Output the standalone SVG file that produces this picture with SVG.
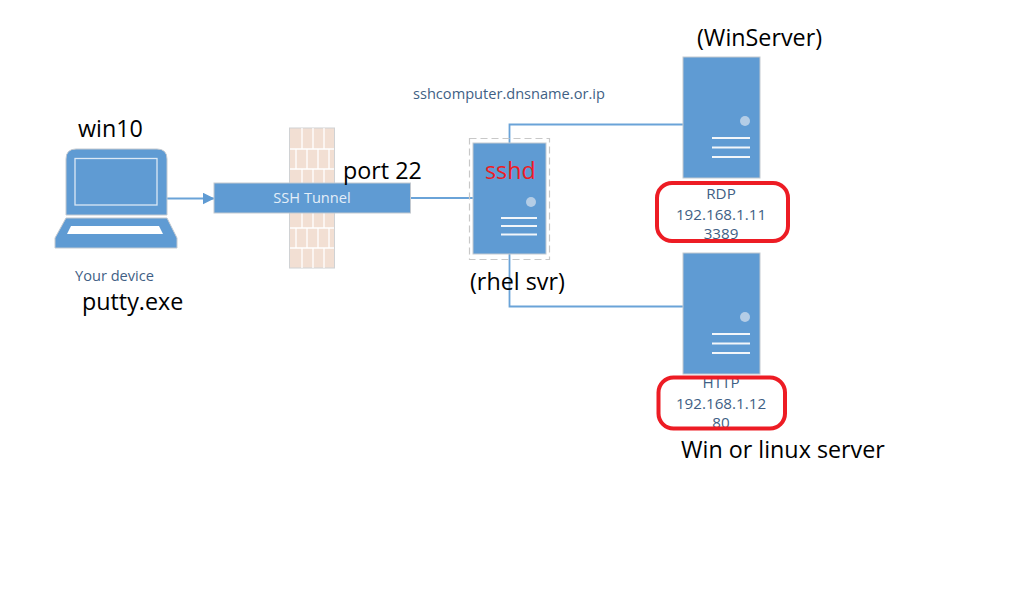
<svg xmlns="http://www.w3.org/2000/svg" width="1030" height="614" viewBox="0 0 1030 614">
<style>
.b{fill:#5f9bd3}
.e{stroke:#c3c9d0;stroke-width:1}
.w{stroke:#fff;stroke-width:1.300;fill:none}
.c{stroke:#6aa3d8;stroke-width:1.800;fill:none}
.k{font-family:"Open Sans","Noto Sans",sans-serif;font-size:23.300px;fill:#000}
.t{font-family:"Open Sans","Noto Sans",sans-serif;font-size:14.600px;fill:#3f5f85}
.i{font-size:15.200px}
.m{text-anchor:middle}
.r{fill:none;stroke:#ed1c24;stroke-width:4}
.d{fill:#b4cde6}
.l{stroke:#f2f6fa;stroke-width:2}
</style>
<defs><marker id="a" markerWidth="12" markerHeight="12" refX="11.500" refY="6" orient="auto" markerUnits="userSpaceOnUse"><path d="M0 0L12 6L0 12Z" fill="#5f9bd3"/></marker></defs>
<rect width="1030" height="614" fill="#fff"/>
<g id="firewall">
<rect x="289.500" y="128" width="45" height="140" fill="#f2dfd3" stroke="#d0d2d4"/>
<path class="w" d="M290 149H334M290 169H334M290 228H334M290 248H334M302 128V149M313 128V149M324 128V149M296 149V169M307 149V169M318 149V169M329 149V169M302 169V183M313 169V183M324 169V183M302 213V228M313 213V228M324 213V228M296 228V248M307 228V248M318 228V248M329 228V248M302 248V268M313 248V268M324 248V268"/>
</g>
<g id="connectors">
<path class="c" d="M167 198.500H214" marker-end="url(#a)"/>
<path class="c" d="M410 198H473"/>
<path class="c" d="M509.500 143V124.500H683"/>
<path class="c" d="M509.500 254V306.500H683"/>
</g>
<g id="laptop">
<path class="b e" d="M66 215V159Q66 149 76 149H157Q167 149 167 159V215Z"/>
<rect x="75" y="158.500" width="82" height="46.500" fill="none" stroke="#dbe8f5" stroke-width="1.300"/>
<path class="b e" d="M66 218H167L177 238V248H55V238Z"/>
<path d="M71 226H159L163 234H67Z" fill="#fff"/>
<text class="t" x="75" y="281">Your device</text>
</g>
<g id="tunnel">
<rect class="b e" x="214" y="183" width="196.500" height="30"/>
<text class="t m" x="312" y="203" style="fill:#e4eef8">SSH Tunnel</text>
</g>
<g id="sshd">
<rect x="469.500" y="138.500" width="80" height="121" fill="none" stroke="#c8c8c8" stroke-width="1.200" stroke-dasharray="7 4"/>
<rect class="b e" x="473" y="143" width="73" height="111"/>
<circle class="d" cx="531" cy="202" r="5"/>
<path class="l" d="M501 218H537M501 226H537M501 234.500H537"/>
<text class="k" x="485" y="179" style="fill:#ed1c24">sshd</text>
</g>
<g id="winserver">
<rect class="b e" x="683" y="57" width="77" height="121"/>
<circle class="d" cx="745" cy="121" r="5"/>
<path class="l" d="M712 138H750M712 147.500H750M712 157H750"/>
<text class="t i m" x="721" y="199">RDP</text>
<text class="t i m" x="721" y="220">192.168.1.11</text>
<text class="t i m" x="721" y="239">3389</text>
<rect class="r" x="657" y="183" width="131" height="58" rx="15"/>
</g>
<g id="httpserver">
<rect class="b e" x="683" y="253" width="77" height="121"/>
<circle class="d" cx="745" cy="317" r="5"/>
<path class="l" d="M712 334H750M712 343.500H750M712 353H750"/>
<text class="t i m" x="721" y="388">HTTP</text>
<text class="t i m" x="721" y="409">192.168.1.12</text>
<text class="t i m" x="721" y="428">80</text>
<rect class="r" x="658.500" y="377.500" width="126.500" height="51" rx="15"/>
</g>
<text class="t" x="413" y="99">sshcomputer.dnsname.or.ip</text>
<text class="k" x="78" y="137">win10</text>
<text class="k" x="82" y="310">putty.exe</text>
<text class="k" x="343" y="179">port 22</text>
<text class="k" x="470" y="290">(rhel svr)</text>
<text class="k" x="697" y="46">(WinServer)</text>
<text class="k" x="681" y="458">Win or linux server</text>
</svg>
